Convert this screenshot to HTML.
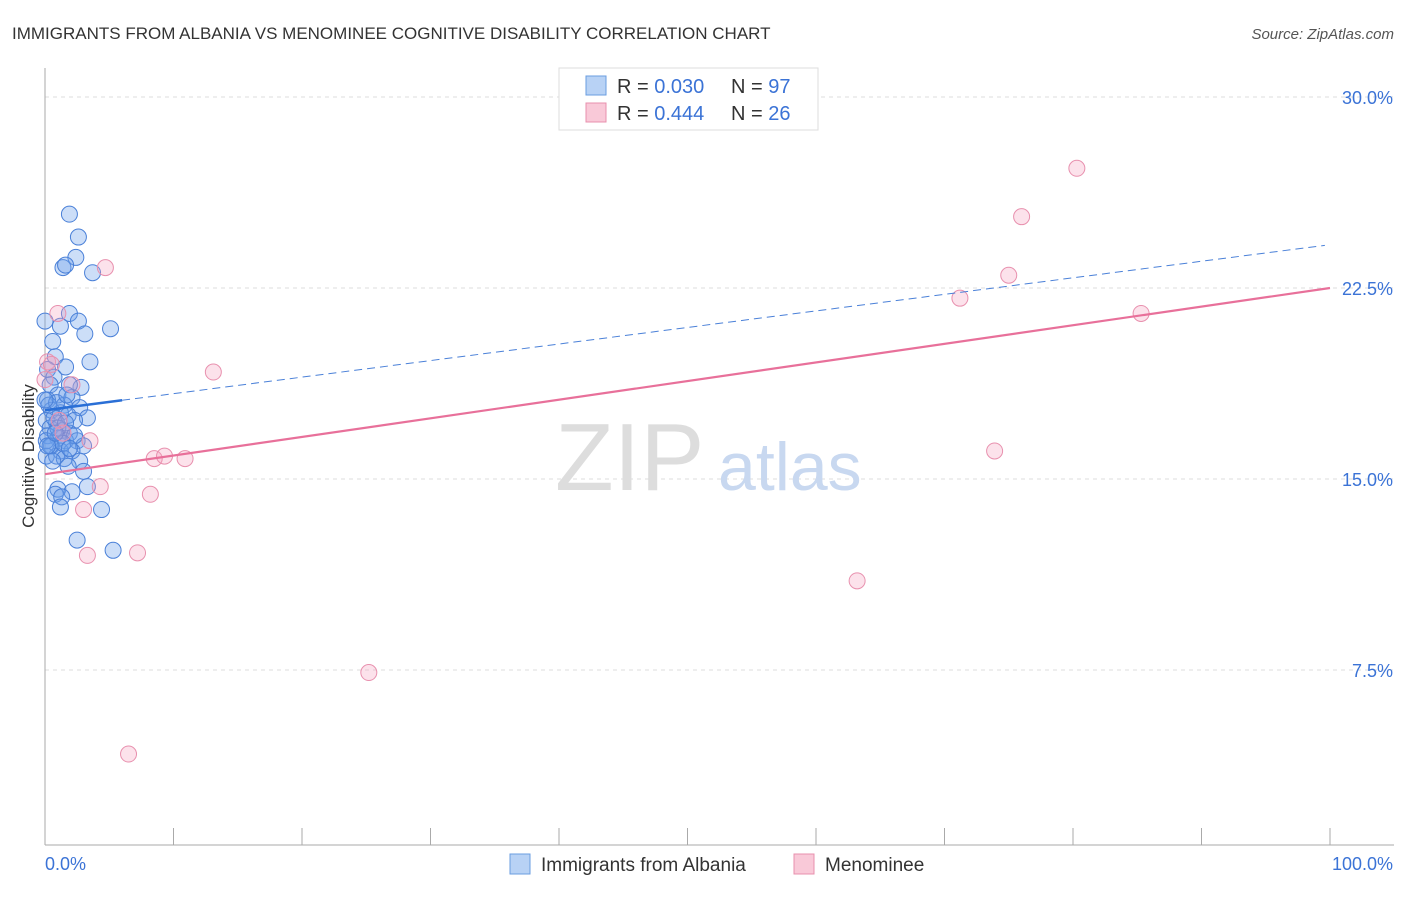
<!DOCTYPE html>
<html><head><meta charset="utf-8"><style>
body{margin:0;background:#fff;font-family:"Liberation Sans",sans-serif}
svg text{font-family:"Liberation Sans",sans-serif}
</style></head><body>
<svg id="c" width="1406" height="892" xmlns="http://www.w3.org/2000/svg">
<text x="12" y="39" font-size="17" fill="#333">IMMIGRANTS FROM ALBANIA VS MENOMINEE COGNITIVE DISABILITY CORRELATION CHART</text>
<text x="1394" y="39" font-size="15" fill="#555" font-style="italic" text-anchor="end">Source: ZipAtlas.com</text>
<g id="grid"></g>
<text x="555" y="490" font-size="96" fill="#ddd" font-family="Liberation Serif">ZIP</text>
<text x="718" y="490" font-size="68" fill="#c8d8f0">atlas</text>
<g id="pts"></g>
<g id="lines"></g>
<text x="34" y="456" font-size="17" fill="#333" transform="rotate(-90 34 456)" text-anchor="middle">Cognitive Disability</text>
<g>
<rect x="559" y="68" width="259" height="62" fill="#fff" stroke="#ddd"/>
<rect x="586" y="76" width="20" height="19" fill="#b8d2f5" stroke="#6a9de0"/>
<rect x="586" y="103" width="20" height="19" fill="#f9c9d8" stroke="#e890ae"/>
<text x="617" y="93" font-size="20" fill="#333">R = <tspan fill="#3b73d6">0.030</tspan><tspan x="731">N = </tspan><tspan fill="#3b73d6">97</tspan></text>
<text x="617" y="120" font-size="20" fill="#333">R = <tspan fill="#3b73d6">0.444</tspan><tspan x="731">N = </tspan><tspan fill="#3b73d6">26</tspan></text>
</g>
<g>
<rect x="510" y="854" width="20" height="20" fill="#b8d2f5" stroke="#6a9de0"/>
<text x="541" y="871" font-size="19" fill="#333">Immigrants from Albania</text>
<rect x="794" y="854" width="20" height="20" fill="#f9c9d8" stroke="#e890ae"/>
<text x="825" y="871" font-size="19" fill="#333">Menominee</text>
</g>
<text x="45" y="870" font-size="18" fill="#3b73d6">0.0%</text>
<text x="1393" y="870" font-size="18" fill="#3b73d6" text-anchor="end">100.0%</text>
</svg>
<script>
const yTicks=[7.5,15,22.5,30];
const yTickLabels=["7.5%","15.0%","22.5%","30.0%"];
const blueX=[1.9,2.6,2.4,1.4,1.6,3.7,1.9,2.6,0,1.2,3.1,5.1,0.6,0.8,3.5,1.6,0.2,0.7,2.8,0.4,1.9,1.0,2.1,0.2,1.5,2.7,0.5,1.2,1.8,3.3,0.1,0.9,2.3,0.4,1.3,1.9,0.2,1.0,1.6,2.5,3.0,0.5,1.2,2.1,0.1,0.9,1.5,2.7,1.8,3.0,3.3,1.0,2.1,0.8,1.3,1.2,4.4,2.5,5.3,0.1,0.4,0.7,1.0,1.6,2.3,1.4,0.6,0.3,0.9,1.7,0.2,0.8,1.9,0];
const blueY=[25.4,24.5,23.7,23.3,23.4,23.1,21.5,21.2,21.2,21.0,20.7,20.9,20.4,19.8,19.6,19.4,19.3,19.0,18.6,18.7,18.7,18.3,18.2,18.1,17.9,17.8,17.7,17.6,17.5,17.4,17.3,17.2,17.3,17.0,16.9,16.8,16.7,16.6,16.5,16.5,16.3,16.3,16.1,16.1,15.9,15.9,15.8,15.7,15.5,15.3,14.7,14.6,14.5,14.4,14.3,13.9,13.8,12.6,12.2,16.5,16.3,17.4,17.0,17.2,16.7,16.4,15.7,17.9,18.0,18.3,16.3,16.8,16.2,18.1];
const pinkX=[6.5,25.2,63.2,3.3,7.2,3.0,4.3,8.2,8.5,9.3,10.9,3.5,13.1,4.7,1.0,0.2,0.5,2.1,1.1,1.4,73.9,71.2,75.0,76.0,80.3,85.3,0];
const pinkY=[4.2,7.4,11.0,12.0,12.1,13.8,14.7,14.4,15.8,15.9,15.8,16.5,19.2,23.3,21.5,19.6,19.5,18.7,17.3,16.8,16.1,22.1,23.0,25.3,27.2,21.5,18.9];
const blueTrend=[17.7,24.2];
const pinkTrend=[15.19,22.5];
const NS="http://www.w3.org/2000/svg";
const X=v=>45+v*12.85, Y=v=>861-v*25.467;
function mk(t,a,p){const e=document.createElementNS(NS,t);for(const k in a)e.setAttribute(k,a[k]);p.appendChild(e);return e;}
const g=document.getElementById('grid');
yTicks.forEach((t,i)=>{
 const l=mk('line',{x1:45,x2:1394,y1:Y(t),y2:Y(t),stroke:'#ddd','stroke-dasharray':'4 4'},g);
 
 
 const tx=mk('text',{x:1393,y:Y(t)+7,'font-size':18,fill:'#3b73d6','text-anchor':'end'},g);
 tx.textContent=yTickLabels[i];
 
 
});
const ax=mk('line',{x1:45,x2:45,y1:68,y2:845,stroke:'#aaa'},g);


const bx=mk('line',{x1:45,x2:1394,y1:845,y2:845,stroke:'#aaa'},g);


for(let i=1;i<=10;i++){const tk=mk('line',{x1:X(i*10),x2:X(i*10),y1:828,y2:845,stroke:'#aaa'},g);
 
 }
const p=document.getElementById('pts');
blueX.forEach((x,i)=>{const c=mk('circle',{cx:X(x),cy:Y(blueY[i]),r:8,fill:'rgba(110,160,235,0.35)',stroke:'#4a80d8','stroke-width':1},p);
 
 });
pinkX.forEach((x,i)=>{const c=mk('circle',{cx:X(x),cy:Y(pinkY[i]),r:8,fill:'rgba(245,160,190,0.3)',stroke:'#e890ae','stroke-width':1},p);
 
 });
const L=document.getElementById('lines');
const bt=x=>blueTrend[0]+(blueTrend[1]-blueTrend[0])*x/100;
const pt=x=>pinkTrend[0]+(pinkTrend[1]-pinkTrend[0])*x/100;
const l1=mk('line',{x1:X(0),y1:Y(bt(0)),x2:X(6),y2:Y(bt(6)),stroke:'#2a6fd6','stroke-width':2.5},L);


const l2=mk('line',{x1:X(6),y1:Y(bt(6)),x2:X(99.6),y2:Y(bt(99.6)),stroke:'#4a80d8','stroke-width':1,'stroke-dasharray':'8 5'},L);


const l3=mk('line',{x1:X(0),y1:Y(pt(0)),x2:X(100),y2:Y(pt(100)),stroke:'#e8709a','stroke-width':2.2},L);


</script>
</body></html>
